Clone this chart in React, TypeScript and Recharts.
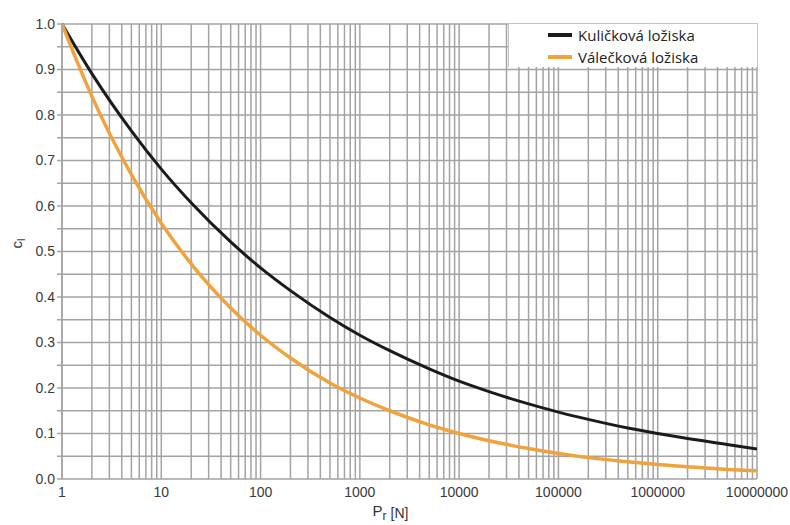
import React from "react";
import { LineChart, Line, XAxis, YAxis, CartesianGrid, Legend } from "recharts";

// load Pr [N]
const loads = [1, 2, 5, 10, 20, 50, 100, 200, 500, 1000, 2000, 5000, 10000, 20000, 50000, 100000, 200000, 500000, 1000000, 2000000, 5000000, 10000000];
const ballBearings = [1.0, 0.891, 0.765, 0.681, 0.607, 0.521, 0.464, 0.414, 0.355, 0.316, 0.282, 0.242, 0.215, 0.192, 0.165, 0.147, 0.131, 0.112, 0.1, 0.089, 0.076, 0.066];
const rollerBearings = [1.0, 0.841, 0.669, 0.562, 0.473, 0.376, 0.316, 0.266, 0.211, 0.178, 0.15, 0.119, 0.1, 0.084, 0.067, 0.056, 0.047, 0.038, 0.032, 0.027, 0.021, 0.018];

const seriesNames = ["Kuličková ložiska", "Válečková ložiska"];
const seriesColors = ["#1b1b1b", "#f0a23c"];

const data = loads.map((x, i) => ({ x, ball: ballBearings[i], roller: rollerBearings[i] }));

// decade ticks with minor lines 2..9
const xTicks: number[] = [];
for (let k = 0; k < 7; k++) {
  for (let d = 1; d <= 9; d++) xTicks.push(d * Math.pow(10, k));
}
xTicks.push(10000000);
const yTicks: number[] = [];
for (let i = 0; i <= 20; i++) yTicks.push(Math.round(i * 5) / 100);

const isDecade = (v: number) => Math.abs(Math.log10(v) - Math.round(Math.log10(v))) < 1e-9;

const GRID = "#a3a3a3";
const tickFont = { fontFamily: "'Liberation Sans Narrow', 'Arial Narrow', 'Liberation Sans', sans-serif", fontSize: 14, fill: "#3a3a3a" };

function LegendBox() {
  return (
    <div style={{ background: "#fff", border: "1px solid #c4c4c4", borderBottom: "none", width: 250, height: 44, boxSizing: "border-box", paddingTop: 0, fontFamily: "'Open Sans', 'Noto Sans', sans-serif", fontSize: 15, color: "#222" }}>
      {seriesNames.map((n, i) => (
        <div key={n} style={{ display: "flex", alignItems: "center", height: 22 }}>
          <span style={{ display: "inline-block", width: 24, height: 4, background: seriesColors[i], marginLeft: 39, marginRight: 6 }} />
          <span>{n}</span>
        </div>
      ))}
    </div>
  );
}

export default function App() {
  return (
    <div style={{ position: "absolute", left: 0, top: 0, width: 790, height: 525, background: "#fff" }}>
      <LineChart width={790} height={525} data={data} margin={{ top: 24, right: 33, bottom: 16, left: 22 }}>
        <CartesianGrid stroke={GRID} strokeWidth={1.5} vertical horizontal />
        <XAxis
          dataKey="x"
          type="number"
          scale="log"
          domain={[1, 10000000]}
          ticks={xTicks}
          interval={0}
          allowDataOverflow
          axisLine={false}
          tickLine={false}
          height={30}
          tick={tickFont}
          tickFormatter={(v: number) => (isDecade(v) ? String(v) : "")}
          label={{
            content: (props: any) => {
              const vb = props.viewBox || { x: 62, y: 479, width: 695 };
              const cx = vb.x + vb.width / 2 - 19;
              const cy = vb.y + 37;
              return (
                <text x={cx} y={cy} textAnchor="middle" style={{ fontFamily: tickFont.fontFamily, fontSize: 15, fill: "#333" }}>
                  P<tspan fontSize={12} dy={4}>r</tspan>
                  <tspan dy={-2} fontSize={14}> [N]</tspan>
                </text>
              );
            },
          }}
        />
        <YAxis
          type="number"
          domain={[0, 1]}
          ticks={yTicks}
          interval={0}
          width={40}
          axisLine={{ stroke: GRID, strokeWidth: 1.5 }}
          tickLine={{ stroke: GRID, strokeWidth: 1.5 }}
          tickSize={5}
          tickMargin={2}
          tick={tickFont}
          tickFormatter={(v: number) => (Math.round(v * 100) % 10 === 0 ? v.toFixed(1) : "")}
          label={{
            content: (props: any) => {
              const vb = props.viewBox || { x: 22, y: 24, height: 455 };
              const cx = 22;
              const cy = vb.y + vb.height / 2 - 8;
              return (
                <text x={cx} y={cy} textAnchor="middle" transform={`rotate(-90 ${cx} ${cy})`} style={{ fontFamily: tickFont.fontFamily, fontSize: 15, fill: "#333" }}>
                  c<tspan fontSize={11} dy={3}>l</tspan>
                </text>
              );
            },
          }}
        />
        <Legend
          layout="horizontal"
          verticalAlign="middle"
          align="center"
          content={() => <LegendBox />}
          wrapperStyle={{ position: "absolute", top: 23, left: 508, width: 250, height: 44 }}
        />
        <Line type="monotone" dataKey="ball" name={seriesNames[0]} stroke={seriesColors[0]} strokeWidth={3} dot={false} isAnimationActive={false} />
        <Line type="monotone" dataKey="roller" name={seriesNames[1]} stroke={seriesColors[1]} strokeWidth={3.5} dot={false} isAnimationActive={false} />
      </LineChart>
    </div>
  );
}
